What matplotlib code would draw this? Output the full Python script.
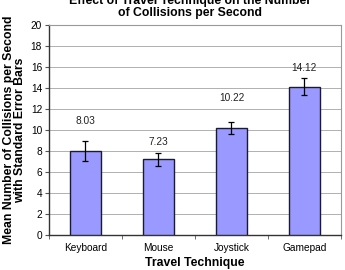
import matplotlib
matplotlib.use("Agg")
from matplotlib import pyplot as plt
import numpy as np

plt.rcParams['font.family'] = ['Liberation Sans', 'DejaVu Sans']

techniques = ['Keyboard', 'Mouse', 'Joystick', 'Gamepad']
mean_collisions = [8.03, 7.23, 10.22, 14.12]
std_errors = [0.95, 0.62, 0.58, 0.80]
value_labels = ['8.03', '7.23', '10.22', '14.12']
label_offsets = [2.8, 1.6, 2.8, 1.8]

fig = plt.figure(figsize=(3.45, 2.7), dpi=100)
ax = fig.add_axes([0.142, 0.13, 0.846, 0.777])

x = np.arange(len(techniques))
ax.bar(x, mean_collisions, width=0.42, color='#9999ff', edgecolor='#1a1a33',
       linewidth=1.0, zorder=3)
ax.errorbar(x, mean_collisions, yerr=std_errors, fmt='none', ecolor='black',
            elinewidth=0.9, capsize=2.5, capthick=0.9, zorder=4)

for xi, v, lab, off in zip(x, mean_collisions, value_labels, label_offsets):
    ax.text(xi, v + off, lab, ha='center', va='center', fontsize=7.3, color='#222222')

ax.set_xlim(-0.5, len(techniques) - 0.5)
ax.set_ylim(0, 20)
ax.set_yticks(np.arange(0, 21, 2))
ax.yaxis.grid(True, color='#b0b0b0', linewidth=0.7, zorder=0)
ax.set_xticks(x)
ax.set_xticklabels(techniques, fontsize=7.3)
ax.set_xticks(np.arange(-0.5, len(techniques), 1), minor=True)
ax.tick_params(axis='x', which='major', length=0, pad=6)
ax.tick_params(axis='x', which='minor', length=3, color='#555555')
ax.tick_params(axis='y', labelsize=7.3, length=3, color='#555555', pad=2)

for s in ['top', 'right']:
    ax.spines[s].set_color('#999999')
    ax.spines[s].set_linewidth(0.8)
for s in ['left', 'bottom']:
    ax.spines[s].set_color('#333333')
    ax.spines[s].set_linewidth(1.0)

ax.set_xlabel('Travel Technique', fontsize=8.8, fontweight='bold', labelpad=3)
ax.set_ylabel('Mean Number of Collisions per Second\nwith Standard Error Bars',
              fontsize=8.8, fontweight='bold', labelpad=3, linespacing=1.0)
fig.text(0.55, 0.975, 'Effect of Travel Technique on the Number\nof Collisions per Second',
         ha='center', va='center', fontsize=8.8, fontweight='bold', linespacing=1.0)

fig.savefig('out.png', dpi=100)
